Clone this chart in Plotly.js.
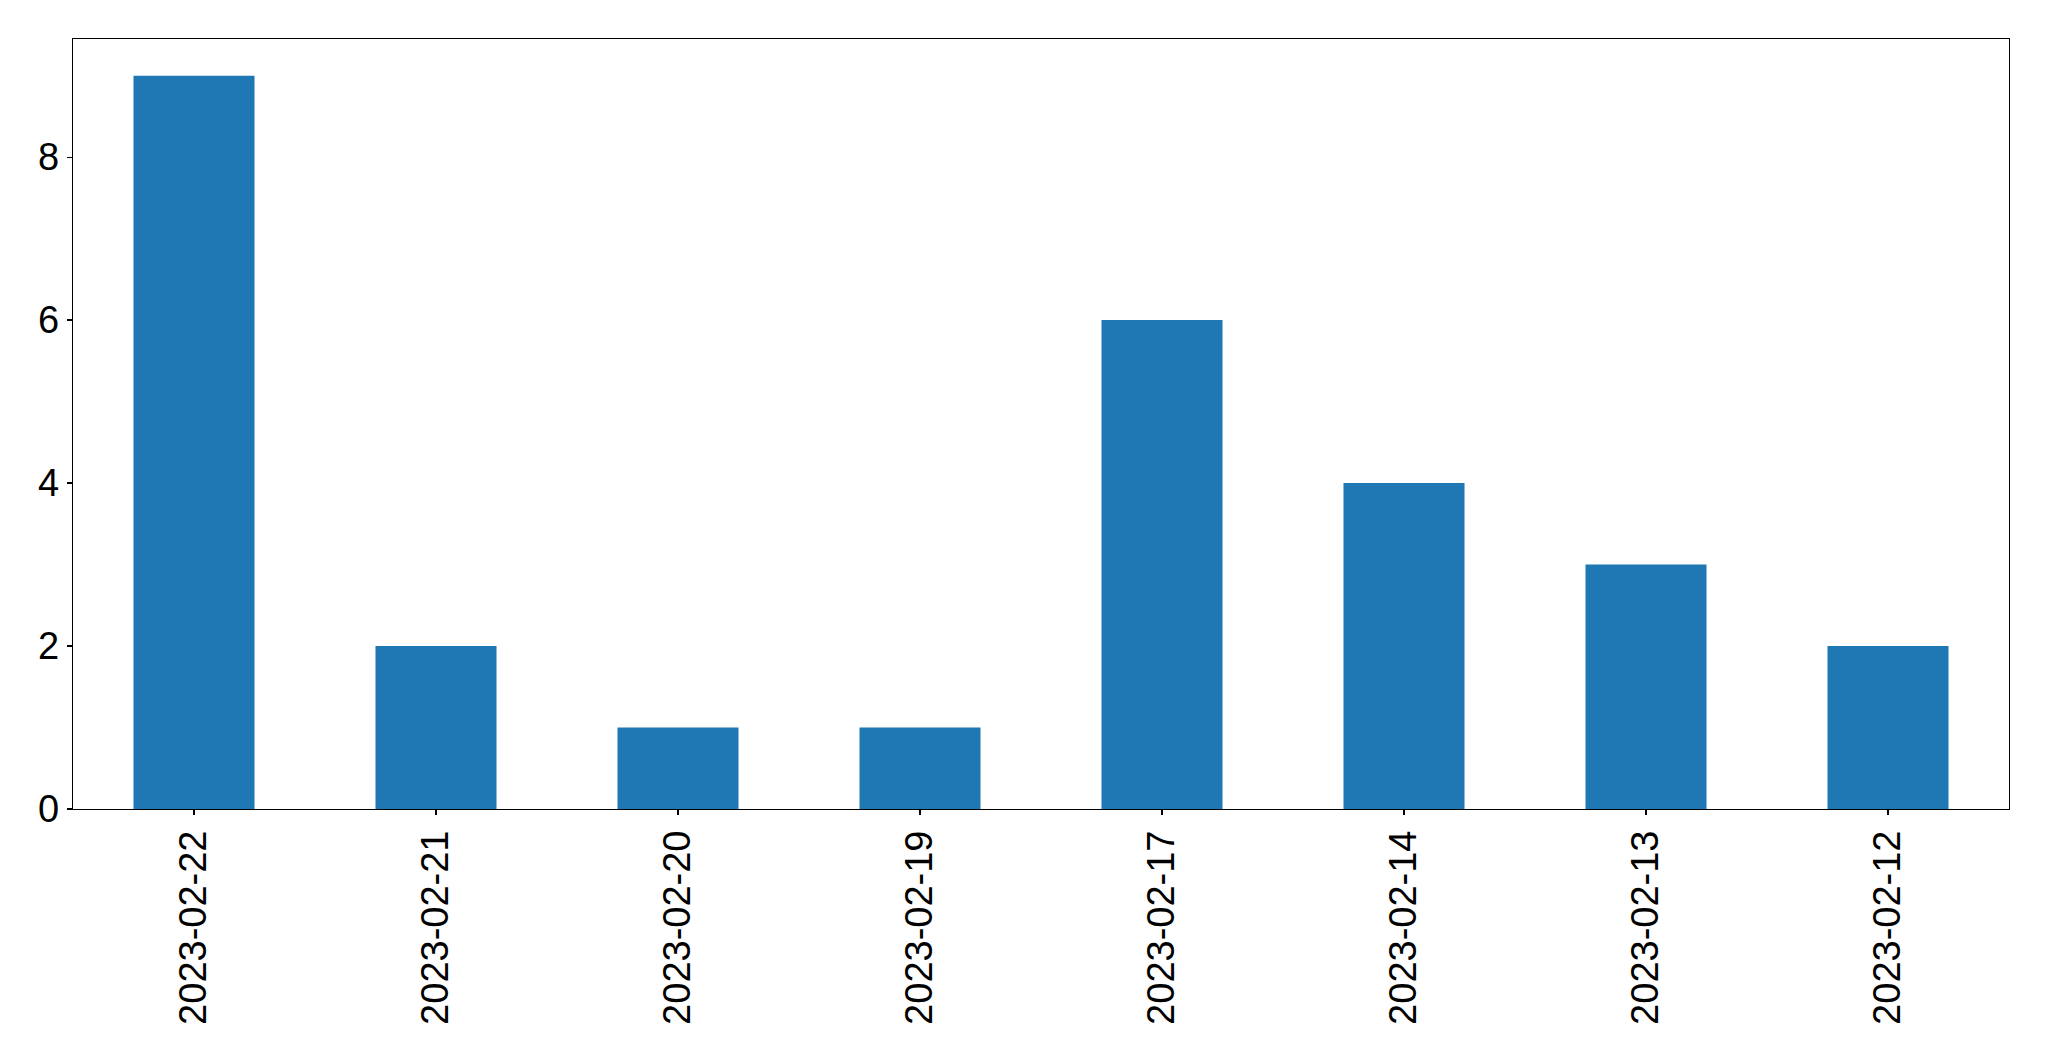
<!DOCTYPE html>
<html>
<head>
<meta charset="utf-8">
<script src="https://cdn.plot.ly/plotly-3.0.1.min.js"></script>
<style>html,body{margin:0;padding:0;background:#fff;}</style>
</head>
<body>
<div id="chart" style="width:2049px;height:1061px;"></div>
<script>
const categories = ["2023-02-22","2023-02-21","2023-02-20","2023-02-19","2023-02-17","2023-02-14","2023-02-13","2023-02-12"];
const values = [9, 2, 1, 1, 6, 4, 3, 2];
const yTickVals = [0, 2, 4, 6, 8];

const font = {family: "Liberation Sans, Arial, sans-serif", size: 38, color: "#000"};

Plotly.newPlot("chart", [{
  type: "bar",
  x: categories,
  y: values,
  marker: {color: "#1f77b4", line: {width: 0}},
  hoverinfo: "x+y"
}], {
  width: 2049, height: 1061,
  margin: {l: 72.7, r: 39.7, t: 39.3, b: 252, pad: 0},
  paper_bgcolor: "#fff", plot_bgcolor: "#fff",
  bargap: 0.5,
  showlegend: false,
  font: font,
  xaxis: {
    type: "category",
    range: [-0.5, 7.5],
    tickangle: -90,
    ticks: "outside", ticklen: 5, tickwidth: 1.3, tickcolor: "#000",
    showline: true, linecolor: "#000", linewidth: 1.3, mirror: true,
    showgrid: false, zeroline: false,
    tickfont: font
  },
  yaxis: {
    range: [0, 9.45],
    tickvals: yTickVals,
    ticktext: yTickVals.map(String),
    ticks: "outside", ticklen: 5, tickwidth: 1.3, tickcolor: "#000",
    showline: true, linecolor: "#000", linewidth: 1.3, mirror: true,
    showgrid: false, zeroline: false,
    tickfont: font
  }
}, {displayModeBar: false, staticPlot: true});
</script>
</body>
</html>
